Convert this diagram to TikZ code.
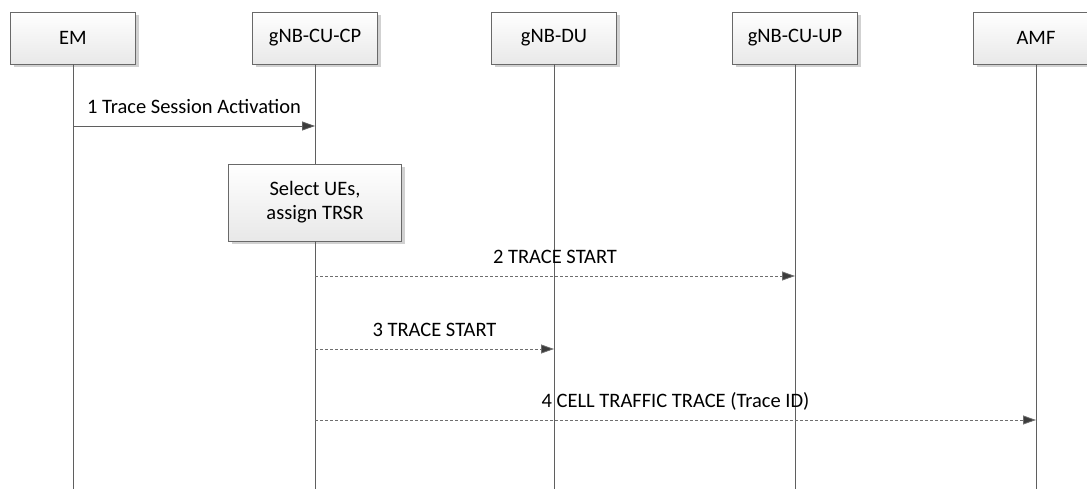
\documentclass[tikz,border=0pt]{standalone}
\usepackage{fontspec}
\setmainfont{Carlito}
\usetikzlibrary{arrows.meta,shadows}
\definecolor{linegray}{RGB}{95,95,95}
\definecolor{boxborder}{RGB}{105,105,105}
\definecolor{dashgray}{RGB}{110,110,110}
\definecolor{tipgray}{RGB}{60,60,60}
\begin{document}
\begin{tikzpicture}[x=1pt,y=-1pt,
  entity/.style={draw=boxborder, line width=0.8pt, top color=white, bottom color=black!9,
    minimum width=125pt, minimum height=52pt, inner sep=0pt,
    font=\fontsize{20.5}{24}\selectfont,
    drop shadow={shadow xshift=3pt, shadow yshift=-3pt, fill=black!18, opacity=1}},
  actbox/.style={entity, minimum width=173pt, minimum height=77pt, align=center,
    font=\fontsize{20.5}{24}\selectfont},
  life/.style={draw=linegray, line width=0.8pt},
  msg/.style={draw=linegray, line width=0.8pt, -{Triangle[length=13pt,width=9pt,fill=tipgray]}},
  dmsg/.style={msg, draw=dashgray, dash pattern=on 3pt off 2pt},
  lbl/.style={font=\fontsize{20.5}{24}\selectfont, anchor=base, yshift=13pt, inner sep=0pt}
]
\useasboundingbox (0,0) rectangle (1087,488);

% entities
\node[entity] (em)   at (73,38)   {EM};
\node[entity] (cucp) at (315,38)  {gNB-CU-CP};
\node[entity] (du)   at (554,38)  {gNB-DU};
\node[entity] (cuup) at (795,38)  {gNB-CU-UP};
\node[entity] (amf)  at (1036,38) {AMF};

% lifeline ends
\coordinate (emEnd)   at (73,490);
\coordinate (cucpEnd) at (315,490);
\coordinate (duEnd)   at (554,490);
\coordinate (cuupEnd) at (795,490);
\coordinate (amfEnd)  at (1036,490);

% action box on gNB-CU-CP
\node[actbox] (sel) at (315,202.5) {Select UEs,\\assign TRSR};

% lifelines
\draw[life] (em.south) -- (emEnd);
\draw[life] (cucp.south) -- (sel.north);
\draw[life] (sel.south) -- (cucpEnd);
\draw[life] (du.south) -- (duEnd);
\draw[life] (cuup.south) -- (cuupEnd);
\draw[life] (amf.south) -- (amfEnd);

% message anchor points
\coordinate (m1a) at (73,126);   \coordinate (m1b) at (315,126);
\coordinate (m2a) at (315,276);  \coordinate (m2b) at (795,276);
\coordinate (m3a) at (315,349);  \coordinate (m3b) at (554,349);
\coordinate (m4a) at (315,420);  \coordinate (m4b) at (1036,420);

% messages
\draw[msg]  (m1a) -- node[lbl] {1 Trace Session Activation} (m1b);
\draw[dmsg] (m2a) -- node[lbl] {2 TRACE START} (m2b);
\draw[dmsg] (m3a) -- node[lbl] {3 TRACE START} (m3b);
\draw[dmsg] (m4a) -- node[lbl] {4 CELL TRAFFIC TRACE (Trace ID)} (m4b);
\end{tikzpicture}
\end{document}
